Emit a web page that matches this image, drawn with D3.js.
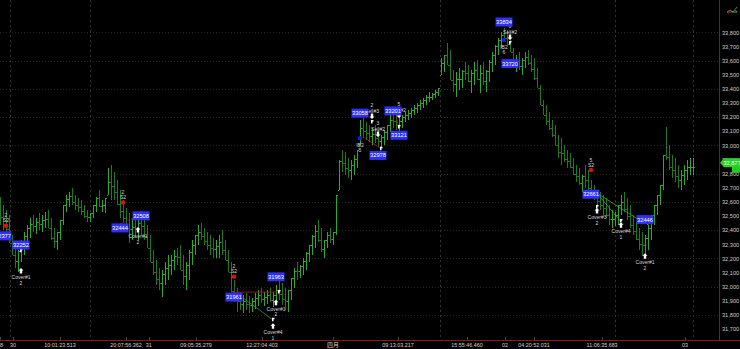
<!DOCTYPE html>
<html>
<head>
<meta charset="utf-8">
<script src="https://cdn.jsdelivr.net/npm/d3@7"></script>
<style>
html, body { margin: 0; padding: 0; background: #000; }
svg { display: block; font-family: Arial, "Liberation Sans", sans-serif; }
</style>
</head>
<body>
<svg id="chart" width="740" height="349"></svg>
<script>
// bar highs / lows, one bar every 3px
var highs = [32635,32580,32545,32505,32365,32295,32260,32330,32385,32435,32485,32505,32485,32520,32505,32530,
  32545,32485,32415,32385,32470,32580,32650,32670,32700,32650,32630,32615,32580,32545,32520,32580,32635,32685,32615,32630,
  32840,32860,32810,32755,32685,32615,32555,32520,32485,32505,32485,32530,32530,32435,32365,32260,32190,32130,32120,
  32175,32225,32225,32260,32275,32295,32225,32175,32260,32330,32365,32435,32450,32415,32385,32365,32345,32330,32365,32400,
  32330,32260,32175,32045,31990,31960,31940,31955,31935,31920,31955,31975,31990,31960,31975,31990,31960,32010,32045,32025,
  31990,31975,32060,32130,32175,32155,32205,32245,32295,32365,32435,32470,32415,32330,32385,32415,32385,32650,32895,32970,
  32955,32910,32895,32930,32970,33180,33195,33165,33145,33125,33145,33110,33075,33110,33145,33215,33235,33230,33200,33215,
  33235,33250,33265,33285,33300,33320,33335,33355,33380,33370,33390,33405,33620,33640,33725,33675,33535,33520,33550,33535,
  33590,33570,33535,33590,33605,33570,33590,33535,33605,33660,33710,33760,33800,33830,33815,33780,33690,33640,33660,33620,
  33660,33675,33640,33620,33550,33425,33320,33285,33235,33180,33145,33075,33050,33005,32970,32945,32910,32860,32840,32790,
  32860,32825,32755,32720,32685,32670,32650,32630,32580,32545,32530,32580,32650,32670,32630,32580,32505,32460,32415,32385,
  32365,32435,32505,32580,32650,32720,32930,33130,33005,32930,32910,32860,32825,32860,32895,32910,32910];
var lows = [32435,32400,32330,32310,32225,32130,32105,32175,32225,32275,32345,32385,32375,32400,32385,32415,
  32415,32330,32275,32260,32330,32435,32530,32565,32580,32545,32530,32505,32485,32460,32460,32485,32530,32565,32530,32520,
  32650,32615,32615,32580,32485,32460,32415,32310,32330,32345,32330,32365,32330,32275,32175,32085,32010,31975,31925,
  32010,32045,32085,32120,32155,32120,32010,31975,32045,32155,32225,32295,32330,32295,32260,32225,32205,32205,32205,32225,
  32190,32105,31960,31890,31820,31835,31815,31835,31815,31820,31840,31865,31885,31865,31880,31890,31855,31870,31905,31870,
  31835,31820,31905,31990,32045,32060,32085,32120,32175,32225,32275,32315,32245,32205,32275,32310,32295,32365,32685,32810,
  32790,32770,32755,32790,32840,33005,33050,33040,33025,33005,33015,32990,32980,33005,33040,33095,33125,33110,33090,33125,
  33165,33180,33195,33215,33230,33250,33265,33285,33305,33320,33335,33350,33500,33520,33570,33465,33380,33345,33390,33405,
  33465,33450,33370,33430,33465,33370,33430,33380,33450,33520,33570,33640,33690,33730,33710,33660,33570,33520,33535,33500,
  33550,33570,33520,33465,33405,33285,33215,33145,33110,33060,33005,32910,32860,32880,32840,32840,32790,32740,32720,32670,
  32700,32685,32635,32615,32580,32545,32505,32485,32435,32415,32430,32435,32505,32530,32470,32415,32365,32330,32260,32215,
  32225,32260,32330,32435,32505,32580,32685,32895,32825,32770,32740,32700,32685,32720,32755,32790,32790];

var priceTicks = d3.range(31700, 33801, 100);
var gridPrices = d3.range(31800, 33801, 200);
var lastPrice = 32877;

var timeLabels = ["28", "30", "10:01:23.513", "20:07:56.362", "31", "09:05:35.279", "12:27:04.403", "四月",
  "09:13:03.217", "15:55:46.460", "02", "04:20:52.031", "11:06:35.683", "03"];
var timeBars = [0, 4.3, 20, 42, 49.6, 65.3, 87.3, 111, 132.7, 155.7, 168.3, 178, 200.7, 228.3];
var gridBars = [3.3, 30, 146.7, 205, 231];

// blue price labels
var labelBars = [1, 7, 40, 47, 78, 92, 120, 126, 131, 133, 168, 170, 197, 215];
var labelValues = [32377, 32252, 32444, 32508, 31961, 31963, 33058, 32978, 33201, 33121, 33834, 33720, 32661, 32446];

// trade signals
var coverBars = [7, 46, 92, 91, 199, 207, 215];
var coverPrices = [32110, 32400, 31885, 31720, 32535, 32435, 32215];
var coverNames = ["Cover#1", "Cover#1", "Cover#1", "Cover#4", "Cover#3", "Cover#4", "Cover#1"];
var coverQty = ["2", "2", "2", "1", "2", "1", "2"];

var sellBars = [124, 126, 133, 170];
var sellPrices = [33208, 33081, 33215, 33767];
var sellNames = ["Sell#3", "Sell#2", "Sell#2", "Sell#2"];
var sellQty = ["2", "3", "5", "6"];

var shortBars = [2, 41, 78, 197];
var shortPrices = [32430, 32595, 32070, 32825];
var shortQty = ["2", "2", "2", "5"];

var ibBars = [120, 168];
var ibPrices = [33050, 33745];
var ibQty = ["5", "6"];

var flagBars = [7, 47, 93, 91, 124, 127, 133, 170, 199, 207, 216];
var flagPrices = [32253, 32515, 31962, 31765, 33166, 32975, 33130, 33725, 32564, 32465, 32451];

var linkFrom = [[40, 32444], [77, 31961], [81, 31920], [121, 33058], [132, 33201], [199, 32661], [199, 32661]];
var linkTo = [[47, 32508], [93, 31961], [91, 31765], [127, 32978], [133, 33121], [207, 32458], [215, 32446]];

var svg = d3.select("#chart");
var W = 740, H = 349, plotR = 719, plotB = 340;

var x = d3.scaleLinear().domain([0, highs.length - 1]).range([0, 693]);
var y = d3.scaleLinear().domain([31700, 33800]).range([329, 32.3]);

svg.append("rect").attr("width", W).attr("height", H).attr("fill", "#000");

// grid
svg.append("g").selectAll("line").data(gridPrices).enter().append("line")
  .attr("x1", 0).attr("x2", plotR)
  .attr("y1", function(d) { return Math.round(y(d)) + 0.5; })
  .attr("y2", function(d) { return Math.round(y(d)) + 0.5; })
  .attr("stroke", "#262626").attr("stroke-dasharray", "1,2");
svg.append("g").selectAll("line").data(gridBars).enter().append("line")
  .attr("x1", function(d) { return Math.round(x(d)) + 0.5; })
  .attr("x2", function(d) { return Math.round(x(d)) + 0.5; })
  .attr("y1", 0).attr("y2", plotB)
  .attr("stroke", "#333").attr("stroke-dasharray", "2,3");

// OHLC bars
var bars = [];
highs.forEach(function(h, i) {
  var nxt = i < highs.length - 1 ? (highs[i + 1] + lows[i + 1]) / 2 : (h + lows[i]) / 2;
  var close = Math.max(lows[i], Math.min(h, nxt));
  bars.push({i: i, hi: h, lo: lows[i], close: close});
});
bars.forEach(function(d, i) { d.open = i > 0 ? Math.max(d.lo, Math.min(d.hi, bars[i - 1].close)) : (d.hi + d.lo) / 2; });

var gb = svg.append("g").attr("shape-rendering", "crispEdges");
var barG = gb.selectAll("g").data(bars).enter().append("g")
  .attr("stroke", function(d) { return d.close >= d.open ? "#2aab2a" : "#1c7c1c"; });
barG.append("line")
  .attr("x1", function(d) { return Math.round(x(d.i)) + 0.5; })
  .attr("x2", function(d) { return Math.round(x(d.i)) + 0.5; })
  .attr("y1", function(d) { return Math.round(y(d.hi)); })
  .attr("y2", function(d) { return Math.round(y(d.lo)); });
barG.append("line")
  .attr("x1", function(d) { return Math.round(x(d.i)) - 1; })
  .attr("x2", function(d) { return Math.round(x(d.i)); })
  .attr("y1", function(d) { return Math.round(y(d.open)) + 0.5; })
  .attr("y2", function(d) { return Math.round(y(d.open)) + 0.5; });
barG.append("line")
  .attr("x1", function(d) { return Math.round(x(d.i)) + 1; })
  .attr("x2", function(d) { return Math.round(x(d.i)) + 2; })
  .attr("y1", function(d) { return Math.round(y(d.close)) + 0.5; })
  .attr("y2", function(d) { return Math.round(y(d.close)) + 0.5; });

// link lines
var linkStyle = [["#d02020", "2,1"], ["#c01818", null], ["#2e9a2e", null], ["#c01818", null],
  ["#c01818", null], ["#3aaa3a", null], ["#3aaa3a", null]];
linkFrom.forEach(function(f, k) {
  svg.append("line")
    .attr("x1", x(f[0])).attr("y1", y(f[1]))
    .attr("x2", x(linkTo[k][0])).attr("y2", y(linkTo[k][1]))
    .attr("stroke", linkStyle[k][0]).attr("stroke-width", 0.8)
    .attr("stroke-dasharray", linkStyle[k][1]);
});

var small = svg.append("g").attr("font-size", "5px").attr("fill", "#d8d8d8").attr("text-anchor", "middle");

// cover: white up arrows with name below
coverBars.forEach(function(b, k) {
  var cx = x(b), cy = y(coverPrices[k]);
  svg.append("path")
    .attr("d", "M" + cx + "," + (cy - 3) + "l2.5,2.5h-1.3v3h-2.4v-3h-1.3z")
    .attr("fill", "#fff");
  small.append("text").attr("x", cx).attr("y", cy + 8).text(coverNames[k]);
  small.append("text").attr("x", cx).attr("y", cy + 13.5).text(coverQty[k]);
});

// sell: white down arrows with name above
sellBars.forEach(function(b, k) {
  var cx = x(b), cy = y(sellPrices[k]);
  svg.append("path")
    .attr("d", "M" + cx + "," + (cy + 3) + "l2.5,-2.5h-1.3v-3h-2.4v3h-1.3z")
    .attr("fill", "#fff");
  small.append("text").attr("x", cx).attr("y", cy - 3).text(sellNames[k]);
  small.append("text").attr("x", cx).attr("y", cy - 8.5).text(sellQty[k]);
});

// short entries: red dot
shortBars.forEach(function(b, k) {
  var cx = x(b), cy = y(shortPrices[k]);
  svg.append("rect").attr("x", cx - 2).attr("y", cy - 2).attr("width", 4).attr("height", 4)
    .attr("rx", 1.2).attr("fill", "#e01010");
  small.append("text").attr("x", cx).attr("y", cy - 3.5).text("S2");
  small.append("text").attr("x", cx).attr("y", cy - 8.5).text(shortQty[k]);
});

// IB2 entries: blue dot
ibBars.forEach(function(b, k) {
  var cx = x(b), cy = y(ibPrices[k]);
  svg.append("rect").attr("x", cx - 2).attr("y", cy - 2).attr("width", 4).attr("height", 4)
    .attr("rx", 1.2).attr("fill", "#1a1ae0");
  small.append("text").attr("x", cx).attr("y", cy + 8.5).text("IB2");
  small.append("text").attr("x", cx).attr("y", cy + 13.5).text(ibQty[k]);
});

// little white flags
flagBars.forEach(function(b, k) {
  var cx = x(b), cy = y(flagPrices[k]);
  svg.append("path").attr("d", "M" + (cx - 1) + "," + (cy - 2) + "h2.5v1.5h-1v2h-1.5z").attr("fill", "#fff");
});

// blue price labels
var labelShift = [2.5, -6, 4, 1, 5, -15, -24, 7, -6, 7, -5.5, 20, 1, -4];
var lab = svg.append("g");
labelBars.forEach(function(b, k) {
  var cx = x(b), cy = y(labelValues[k]) + labelShift[k];
  lab.append("rect").attr("x", cx - 8.5).attr("y", cy - 4.5).attr("width", 17).attr("height", 9)
    .attr("fill", "#2f2ff5");
  lab.append("text").attr("x", cx).attr("y", cy + 2).attr("text-anchor", "middle")
    .attr("font-size", "5.8px").attr("fill", "#fff").text(labelValues[k]);
});

// frame lines
svg.append("rect").attr("x", 0).attr("y", plotB + 1).attr("width", W).attr("height", H - plotB).attr("fill", "#000");
svg.append("line").attr("x1", 0).attr("x2", W).attr("y1", plotB + 0.5).attr("y2", plotB + 0.5)
  .attr("stroke", "#8a1a1a");
svg.append("line").attr("x1", plotR + 0.5).attr("x2", plotR + 0.5).attr("y1", 0).attr("y2", plotB)
  .attr("stroke", "#8a1a1a");

// right price axis
var ax = svg.append("g").attr("transform", "translate(" + (plotR + 1) + ",0)")
  .call(d3.axisRight(y).tickValues(priceTicks).tickFormat(d3.format(",")).tickSize(0).tickPadding(2));
ax.select(".domain").remove();
ax.selectAll("text").attr("font-size", "5.6px").attr("fill", "#cfcfcf").attr("font-family", "Arial, sans-serif");

// last price marker
var ly = y(lastPrice);
svg.append("rect").attr("x", 732).attr("y", ly + 3).attr("width", 8).attr("height", 7).attr("fill", "#25c825");
svg.append("path").attr("d", "M" + (plotR + 1) + "," + ly + "l4,-4.5h17v9h-17z").attr("fill", "#2ad02a");
svg.append("text").attr("x", plotR + 13).attr("y", ly + 2).attr("text-anchor", "middle")
  .attr("font-size", "5.6px").attr("fill", "#e8ffe8").text(d3.format(",")(lastPrice));

// top-right icon
svg.append("path").attr("d", "M727,12 l3,-2 l3,2 l4,-5").attr("fill", "none").attr("stroke", "#888").attr("stroke-width", 0.8);
svg.append("path").attr("d", "M727,12 h5 l-1.5,-1.5 M727,12 l1.5,1.5").attr("fill", "none").attr("stroke", "#d03030").attr("stroke-width", 1);
svg.append("path").attr("d", "M732,12 h5 l-1.5,-1.5").attr("fill", "none").attr("stroke", "#30c030").attr("stroke-width", 1);

// bottom time axis
var bx = svg.append("g");
bx.selectAll("line").data(timeBars).enter().append("line")
  .attr("x1", function(d) { return Math.round(x(d)) + 0.5; })
  .attr("x2", function(d) { return Math.round(x(d)) + 0.5; })
  .attr("y1", plotB - 3).attr("y2", plotB)
  .attr("stroke", "#444");
bx.selectAll("text").data(timeLabels).enter().append("text")
  .attr("x", function(d, i) { return x(timeBars[i]); })
  .attr("y", 347)
  .attr("text-anchor", "middle")
  .attr("font-size", function(d) { return d === "四月" ? "6px" : "5.4px"; })
  .attr("font-family", function(d) { return d === "四月" ? "'Noto Sans CJK SC', sans-serif" : "Arial, sans-serif"; })
  .attr("fill", "#cfcfcf")
  .text(function(d) { return d; });
</script>
</body>
</html>
